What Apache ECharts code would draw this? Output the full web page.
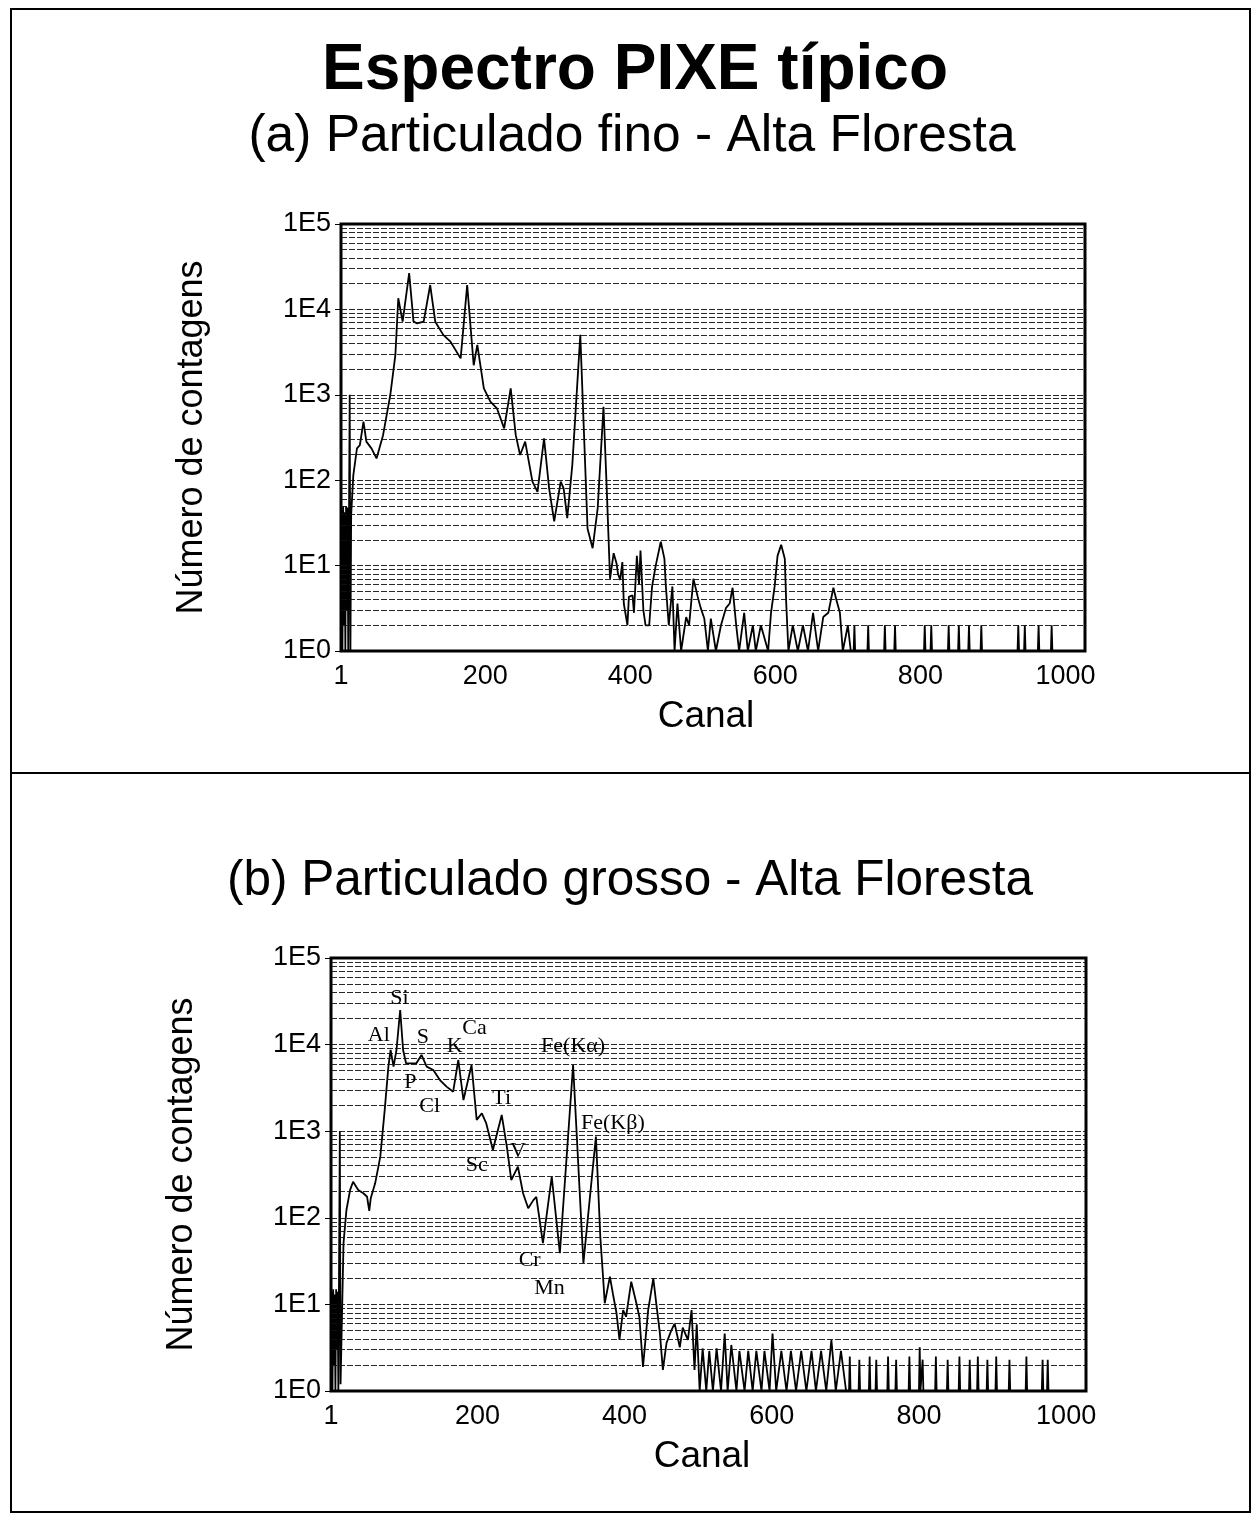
<!DOCTYPE html>
<html>
<head>
<meta charset="utf-8">
<script src="https://cdn.jsdelivr.net/npm/echarts@6/dist/echarts.min.js"></script>
<style>
html,body{margin:0;padding:0;background:#fff;}
#chart{width:1253px;height:1516px;}
</style>
</head>
<body>
<div id="chart"></div>
<script>
// ---------- DATA ----------
const xTickValues = [1, 200, 400, 600, 800, 1000];
const yTickLabels = ['1E0', '1E1', '1E2', '1E3', '1E4', '1E5'];
const gridLevels = [2,3,4,5,6,7,8,9,10,20,30,40,50,60,70,80,90,100,200,300,400,500,600,700,800,900,1000,
  2000,3000,4000,5000,6000,7000,8000,9000,10000,20000,30000,40000,50000,60000,70000,80000,90000];

// (a) Particulado fino
const chanA = [1,2,3,4,5,6,7,8,9,10,11,12,13,14,15,18,23,27,32,36,43,50,59,69,76,80,86,95,101,106,115,124,131,142,152,166,175,184,189,198,207,216,226,235,242,248,255,265,272,281,288,295,304,308,313,320,331,341,348,355,363,368,372,377,381,383,386,389,391,396,398,403,405,409,412,414,418,421,426,430,435,442,447,449,453,458,461,465,470,477,481,487,493,497,502,507,511,518,525,532,537,541,546,550,557,562,569,573,580,590,594,599,603,608,613,615,618,624,631,638,645,652,659,666,673,680,684,689,693,700,704,708,709,710,727,728,729,750,751,752,764,765,766,805,806,807,814,815,816,838,839,840,852,853,854,866,867,868,883,884,885,934,935,936,943,944,945,962,963,964,980,981,982,1000];
const countA = [1,45,1,50,2,42,1,50,3,48,1,1,1000,1,39,115,236,257,484,283,236,180,337,1000,2930,13500,7180,26600,7180,6870,7180,19300,7180,5030,4190,2670,19300,2220,3840,1190,830,695,405,1190,337,197,283,96,73,310,80,33,96,80,36,151,5030,27,16,47,725,60,7,14,10.6,8,6.8,11,3.6,2,4.3,4.5,2.8,13,6,15,3,2,2,5.7,10,19,12,5.7,2,5.7,1,3.6,1,2.5,2,7,4.3,3.2,2.4,1,2.4,1,2,3.2,3.6,5.5,2,1,2.8,1,2,1,2,1,2.8,5.7,13,17.5,12,3.6,1,2,1,2,1,2.8,1,2.5,2.8,5.5,4,2.8,1,2,1,1,2,1,1,2,1,1,2,1,1,2,1,1,2,1,1,2,1,1,2,1,1,2,1,1,2,1,1,2,1,1,2,1,1,2,1,1,2,1,1,2,1,1];

// (b) Particulado grosso
const chanB = [1,2,3,4,5,6,7,8,9,10,11,12,13,14,18,22,27,31,38,45,50,53,55,61,68,74,79,82,86,90,95,99,103,110,117,124,131,140,149,158,167,174,181,192,199,206,212,221,233,240,246,255,262,269,276,280,289,301,312,330,344,361,367,371,373,380,384,389,393,398,402,409,416,420,425,432,439,443,448,452,457,463,468,475,479,486,491,495,498,502,506,511,515,520,525,531,536,540,545,552,556,563,568,574,579,586,590,597,601,606,613,620,626,633,640,647,654,660,667,674,681,687,694,701,705,706,707,718,719,720,732,733,734,741,742,743,757,758,759,768,769,770,786,787,788,800,801,802,804,805,806,822,823,824,838,839,840,854,855,856,868,869,870,879,880,881,892,893,894,904,905,906,922,923,924,945,946,947,967,968,969,974,975,976,1000];
const countB = [1,14,1,15,2,13,1,15,3,14,1,1,1000,1.2,51,123,210,261,210,192,175,120,168,250,508,1760,5560,8670,5560,8670,25100,8670,6080,6080,6080,7590,5560,5090,3900,3270,2860,6640,2290,5810,1350,1610,1230,607,1540,661,273,389,192,129,160,175,51,298,39,5810,30,865,60,19,10.3,20.9,13.4,7.9,3.9,8.6,7.2,18.3,10.3,7.2,1.9,8.6,20,10.3,4.6,1.75,3.6,4.9,6,3.2,5.4,3.9,8.6,1.75,5.9,1,3.1,1,2.9,1,3.1,1,4.6,1,3.4,1,2.9,1,2.9,1,2.9,1,2.9,1,4.6,1,2.9,1,2.9,1,2.9,1,2.9,1,2.9,1,3.9,1,2.9,1,1,2.5,1,1,2.3,1,1,2.5,1,1,2.3,1,1,2.5,1,1,2.3,1,1,2.5,1,1,3.2,1,1,2.3,1,1,2.5,1,1,2.3,1,1,2.5,1,1,2.3,1,1,2.5,1,1,2.3,1,1,2.5,1,1,2.3,1,1,2.5,1,1,2.3,1,1,2.3,1,1];

// peak annotations of (b)
const peakNames = ['Si','Al','S','Ca','K','Fe(Kα)','P','Cl','Ti','Fe(Kβ)','V','Sc','Cr','Mn'];
const peakChannels = [94,66,126,196,169,330,109,135,233,384,255,199,271,298];
const peakCounts = [34500,12900,12200,15500,9460,9460,3720,1920,2400,1230,580,408,32.6,15.3];

// ---------- BUILD ----------
const zip = (xs, ys) => xs.map((x, i) => [x, ys[i]]);
const SANS = '"Liberation Sans", Arial, Helvetica, sans-serif';
const SERIF = '"Liberation Serif", "Times New Roman", serif';

function xAxisCfg(gridIndex, padRight) {
  return {
    type: 'value', gridIndex, min: 1, max: 1027,
    name: 'Canal', nameLocation: 'middle', nameGap: 47,
    nameTextStyle: { fontFamily: SANS, fontSize: 37, color: '#000', padding: [0, padRight, 0, 0] },
    axisLine: { show: false },
    axisTick: { show: false },
    splitLine: { show: false },
    axisLabel: { customValues: xTickValues, formatter: v => String(v), fontFamily: SANS, fontSize: 27, color: '#000', margin: 12 }
  };
}
function yAxisCfg(gridIndex) {
  return {
    type: 'log', logBase: 10, gridIndex, min: 1, max: 100000,
    name: 'Número de contagens', nameLocation: 'middle', nameGap: 131, nameRotate: 90,
    nameTextStyle: { fontFamily: SANS, fontSize: 36, color: '#000' },
    axisLine: { show: false },
    axisTick: { show: true, length: 6, lineStyle: { color: '#000', width: 1 } },
    splitLine: { show: false },
    minorTick: { show: false },
    axisLabel: {
      fontFamily: SANS, fontSize: 27, color: '#000', margin: 10,
      formatter: v => yTickLabels[Math.round(Math.log10(v))]
    }
  };
}
const gridMark = {
  silent: true, symbol: 'none', animation: false,
  label: { show: false },
  lineStyle: { color: '#111', width: 1, type: [6, 2], opacity: 0.9 },
  data: gridLevels.map(v => ({ yAxis: v }))
};
function specSeries(idx, data) {
  return {
    type: 'line', xAxisIndex: idx, yAxisIndex: idx, data,
    showSymbol: false, symbol: 'none', clip: true, animation: false,
    lineStyle: { color: '#000', width: 1.8 },
    markLine: gridMark, z: 3
  };
}

const option = {
  backgroundColor: '#fff',
  animation: false,
  grid: [
    { left: 341, top: 224, width: 744, height: 427, show: true, borderColor: '#000', borderWidth: 3, backgroundColor: '#fff' },
    { left: 331, top: 958, width: 755, height: 433, show: true, borderColor: '#000', borderWidth: 3, backgroundColor: '#fff' }
  ],
  xAxis: [xAxisCfg(0, 14), xAxisCfg(1, 13)],
  yAxis: [yAxisCfg(0), yAxisCfg(1)],
  series: [
    specSeries(0, zip(chanA, countA)),
    specSeries(1, zip(chanB, countB)),
    {
      type: 'scatter', xAxisIndex: 1, yAxisIndex: 1, symbolSize: 0, z: 5,
      itemStyle: { opacity: 1, color: '#000' },
      data: peakNames.map((n, i) => ({ name: n, value: [peakChannels[i], peakCounts[i]] })),
      label: { show: true, position: 'inside', formatter: p => p.name, fontFamily: SERIF, fontSize: 22, color: '#000', opacity: 1, textBorderWidth: 0 }
    }
  ],
  graphic: [
    { type: 'rect', shape: { x: 11, y: 9, width: 1239, height: 1503 }, style: { fill: 'none', stroke: '#000', lineWidth: 2 }, z: 10 },
    { type: 'line', shape: { x1: 11, y1: 773, x2: 1250, y2: 773 }, style: { stroke: '#000', lineWidth: 2 }, z: 10 },
    { type: 'text', x: 635, y: 71, style: { text: 'Espectro PIXE típico', font: 'bold 64px ' + SANS, fill: '#000', align: 'center', verticalAlign: 'middle' } },
    { type: 'text', x: 632, y: 137, style: { text: '(a) Particulado fino - Alta Floresta', font: '51.5px ' + SANS, fill: '#000', align: 'center', verticalAlign: 'middle' } },
    { type: 'text', x: 630, y: 881, style: { text: '(b) Particulado grosso - Alta Floresta', font: '49.5px ' + SANS, fill: '#000', align: 'center', verticalAlign: 'middle' } }
  ]
};

const chart = echarts.init(document.getElementById('chart'), null, { renderer: 'canvas' });
chart.setOption(option);
</script>
</body>
</html>
